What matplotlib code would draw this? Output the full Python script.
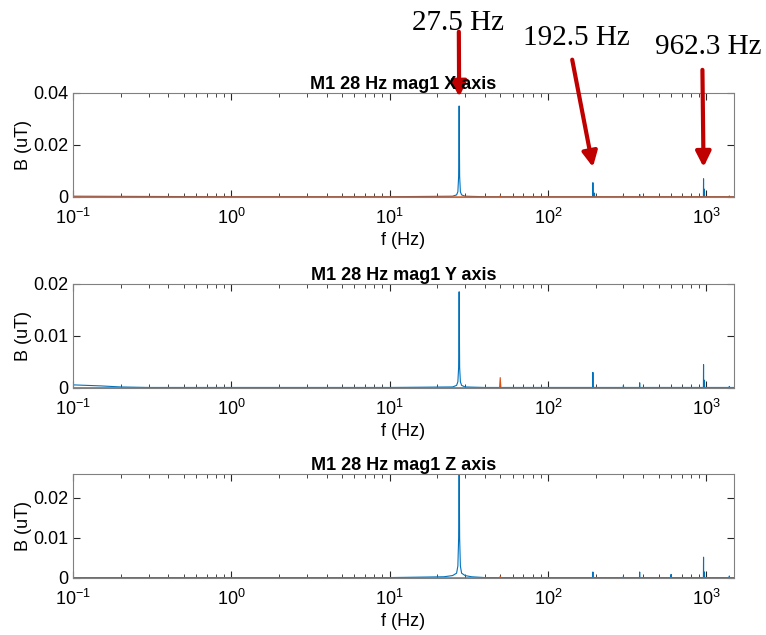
"""FFT magnitude spectra of mag1 (M1, 28 Hz drive), X/Y/Z axes, MATLAB-style."""
import matplotlib
matplotlib.use("Agg")
import matplotlib.pyplot as plt

BLUE = "#0072BD"
ORANGE = "#D95319"
RED = "#C00000"

AXIS_NAMES = ["X", "Y", "Z"]
YLIMS = [0.04, 0.02, 0.026]
YTICKS = [[0, 0.02, 0.04], [0, 0.01, 0.02], [0, 0.01, 0.02]]
YTICKLABELS = [["0", "0.02", "0.04"], ["0", "0.01", "0.02"], ["0", "0.01", "0.02"]]

# blue trace (mag1): frequency (Hz) / amplitude (uT)
X_F = [0.1, 0.3, 1, 10, 25, 26.5, 27.0, 27.3, 27.5, 27.7, 28.0, 28.5, 30, 40,
       192.0, 192.5, 193.0, 196.5, 197.0, 197.5, 299, 300, 301, 379, 380, 381,
       960.5, 962.3, 964, 973, 975, 977, 1395, 1400, 1405, 1500]
X_B = [0.0003, 0.0002, 0.0001, 0.0001, 0.0003, 0.0008, 0.002, 0.008, 0.035, 0.008, 0.002, 0.0008, 0.0003, 0.0001,
       0.0001, 0.0055, 0.0001, 0.0001, 0.0015, 0.0001, 0.0001, 0.0005, 0.0001, 0.0001, 0.001, 0.0001,
       0.0001, 0.007, 0.0001, 0.0001, 0.003, 0.0001, 0.0001, 0.0004, 0.0001, 0.0001]
Y_F = [0.1, 0.15, 0.2, 0.3, 1, 10, 25, 26.5, 27.0, 27.3, 27.5, 27.7, 28.0, 28.5, 30, 40,
       192.0, 192.5, 193.0, 299, 300, 301, 379, 380, 381,
       960.5, 962.3, 964, 973, 975, 977, 1395, 1400, 1405, 1500]
Y_B = [0.0006, 0.0004, 0.0002, 0.0001, 0.0001, 0.0001, 0.0002, 0.0005, 0.0012, 0.004, 0.0185, 0.004, 0.0012, 0.0005, 0.0002, 0.0001,
       0.0001, 0.003, 0.0001, 0.0001, 0.0005, 0.0001, 0.0001, 0.001, 0.0001,
       0.0001, 0.0045, 0.0001, 0.0001, 0.0015, 0.0001, 0.0001, 0.0003, 0.0001, 0.0001]
Z_F = [0.1, 1, 10, 22, 25, 26.5, 27.0, 27.3, 27.5, 27.7, 28.0, 28.5, 30, 33, 40,
       192.0, 192.5, 193.0, 299, 300, 301, 379, 380, 381, 598, 600, 602,
       960.5, 962.3, 964, 973, 975, 977, 1395, 1400, 1405, 1500]
Z_B = [0.0001, 0.0001, 0.0001, 0.0003, 0.0006, 0.0012, 0.003, 0.01, 0.03, 0.01, 0.003, 0.0012, 0.0006, 0.0003, 0.0001,
       0.0001, 0.0015, 0.0001, 0.0001, 0.0004, 0.0001, 0.0001, 0.0015, 0.0001, 0.0001, 0.0009, 0.0001,
       0.0001, 0.0052, 0.0001, 0.0001, 0.0015, 0.0001, 0.0001, 0.0005, 0.0001, 0.0001]

# orange trace (reference), mostly flat with a 50 Hz line
O_F = [0.1, 49.5, 50, 50.5, 1500]
O_X = [0.00005, 0.00005, 0.0005, 0.00005, 0.00005]
O_Y = [0.00005, 0.00005, 0.002, 0.00005, 0.00005]
O_Z = [0.00005, 0.00005, 0.0004, 0.00005, 0.00005]

BLUE_F = [X_F, Y_F, Z_F]
BLUE_B = [X_B, Y_B, Z_B]
ORANGE_B = [O_X, O_Y, O_Z]

# annotated peaks (top panel)
PEAK_LABELS = ["27.5 Hz", "192.5 Hz", "962.3 Hz"]
PEAK_F = [27.5, 192.5, 962.3]

plt.rcParams["font.family"] = ["Liberation Sans", "DejaVu Sans"]
fig = plt.figure(figsize=(7.66, 6.35), dpi=100)
bottoms = [0.6898, 0.389, 0.0898]
axes = []
for i, name in enumerate(AXIS_NAMES):
    ax = fig.add_axes([0.0953, bottoms[i], 0.863, 0.1638])
    ax.plot(BLUE_F[i], BLUE_B[i], color=BLUE, lw=0.8)
    ax.plot(O_F, ORANGE_B[i], color=ORANGE, lw=0.8)
    ax.set_xscale("log")
    ax.set_xlim(0.1, 1500)
    ax.set_ylim(0, YLIMS[i])
    ax.set_yticks(YTICKS[i])
    ax.set_yticklabels(YTICKLABELS[i])
    ax.set_xticks([0.1, 1, 10, 100, 1000])
    ax.tick_params(which="both", direction="in", top=True, right=True,
                   labelsize=13, color="#262626", length=5)
    ax.tick_params(axis="x", pad=8)
    ax.tick_params(which="minor", length=3)
    for s in ax.spines.values():
        s.set_color("#808080")
    ax.set_title(f"M1 28 Hz mag1 {name} axis", fontsize=13, fontweight="bold", pad=3)
    ax.set_xlabel("f (Hz)", fontsize=13, labelpad=3)
    ax.set_ylabel("B (uT)", fontsize=13, labelpad=1)
    axes.append(ax)

top = axes[0]
text_pos = [(0.598, 0.963), (0.753, 0.94), (0.924, 0.926)]
tips = [0.0385, 0.0115, 0.0115]
tails = [(0.599, 0.95), (0.747, 0.906), (0.917, 0.89)]
for lab, f, (tx, ty), tip, tail in zip(PEAK_LABELS, PEAK_F, text_pos, tips, tails):
    fig.text(tx, ty, lab, ha="center", va="center", fontsize=21,
             family=["Liberation Serif", "DejaVu Serif"])
    top.annotate("", xy=(f, tip), xycoords="data", xytext=tail,
                 textcoords="figure fraction", annotation_clip=False,
                 arrowprops=dict(arrowstyle="-|>,head_length=0.9,head_width=0.45",
                                 color=RED, lw=3, shrinkA=0, shrinkB=0))

fig.savefig("out.png", dpi=100)
